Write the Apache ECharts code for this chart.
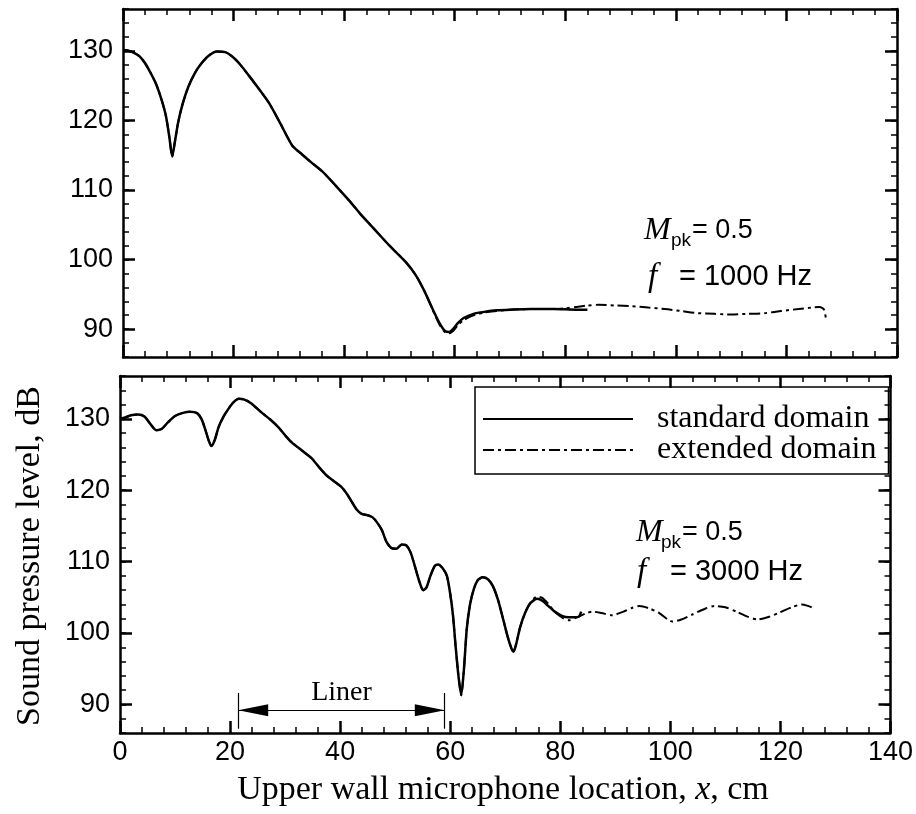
<!DOCTYPE html>
<html lang="en">
<head>
<meta charset="UTF-8">
<title>Sound pressure level along upper wall</title>
<script src="https://cdn.jsdelivr.net/npm/echarts@6/dist/echarts.min.js"></script>
<style>
  html, body { margin: 0; padding: 0; background: #fff; }
  #chart { width: 916px; height: 814px; }
</style>
</head>
<body>
<div id="chart"></div>
<script>
// ---- data (x in cm, SPL in dB) ----
var yLabelValues = [90, 100, 110, 120, 130];

// f = 1000 Hz, standard domain
var topStdX = [0, 1, 2, 3, 4, 5, 6, 7, 7.8, 8.4, 8.9, 9.4, 10, 10.8, 11.8, 13, 14.2, 15.5, 17, 18.5,
  19.7, 21, 22.7, 24.5, 26.4, 28.5, 30.6, 32.4, 34, 36, 38.5, 41, 43, 45.2, 48.2, 51.2, 53, 54.5,
  56, 57.3, 58.3, 59, 59.8, 60.6, 61.6, 63.4, 65.5, 67.6, 70, 73.8, 78, 82, 84];
var topStdY = [130.1, 130, 129.7, 129.2, 128.2, 126.8, 125.2, 122.9, 120.5, 117.5, 114.8, 117, 119.8,
  122.4, 124.8, 126.8, 128.2, 129.3, 129.9, 129.8, 129.2, 128.2, 126.5, 124.6, 122.5, 119.5, 116.4,
  115.1, 114, 112.7, 110.6, 108.4, 106.5, 104.6, 102, 99.6, 97.7, 95.5, 92.9, 90.8, 89.7, 89.6, 90.1,
  90.9, 91.6, 92.2, 92.5, 92.7, 92.8, 92.9, 92.9, 92.8, 92.8];

// f = 1000 Hz, extended domain
var topExtX = [0, 1, 2, 3, 4, 5, 6, 7, 7.8, 8.4, 8.9, 9.4, 10, 10.8, 11.8, 13, 14.2, 15.5, 17, 18.5,
  19.7, 21, 22.7, 24.5, 26.4, 28.5, 30.6, 32.4, 34, 36, 38.5, 41, 43, 45.2, 48.2, 51.2, 53, 54.5,
  56, 57.3, 58.3, 59, 59.8, 60.6, 61.6, 63.4, 65.5, 67.6, 70, 73.8, 78, 80, 82, 84, 86, 89, 92, 95,
  98, 101, 104, 107, 110, 113, 116, 119, 122.2, 124.5, 126, 126.8, 127.2];
var topExtY = [130.1, 130, 129.7, 129.2, 128.2, 126.8, 125.2, 122.9, 120.5, 117.5, 114.8, 117, 119.8,
  122.4, 124.8, 126.8, 128.2, 129.3, 129.9, 129.8, 129.2, 128.2, 126.5, 124.6, 122.5, 119.5, 116.4,
  115.1, 114, 112.7, 110.6, 108.4, 106.5, 104.6, 102, 99.6, 97.7, 95.5, 92.8, 90.6, 89.5, 89.4, 89.8,
  90.6, 91.3, 92, 92.4, 92.6, 92.8, 92.9, 92.9, 93, 93.2, 93.4, 93.5, 93.4, 93.3, 93.1, 92.9, 92.6,
  92.3, 92.2, 92.1, 92.2, 92.3, 92.6, 92.9, 93.1, 93.2, 92.8, 91.2];

// f = 3000 Hz, standard domain
var botStdX = [0, 1, 2, 3.3, 4.5, 5.5, 6.6, 7.6, 8.7, 10, 11.3, 12.7, 14, 14.8, 15.5, 16.1, 16.6, 17.2,
  17.9, 18.8, 19.7, 20.6, 21.6, 22.6, 23.8, 25.7, 27.3, 28.8, 30, 31.2, 33, 34.8, 36.2, 37.5, 39, 40.3,
  41.3, 42.1, 43, 43.9, 45, 45.9, 46.7, 47.6, 48.4, 49.3, 50.2, 51.2, 52, 52.8, 53.6, 54.4, 55.1, 55.7,
  56.4, 57.2, 57.8, 58.6, 59.4, 60, 60.5, 61, 61.5, 62, 62.5, 63, 63.6, 64.3, 65, 65.9, 66.9, 67.8,
  68.7, 69.6, 70.4, 71.1, 71.5, 72, 72.7, 73.6, 74.6, 75.8, 76.8, 77.8, 79, 80.3, 81.5, 82.5, 83.4, 83.8];
var botStdY = [130, 130.2, 130.5, 130.6, 130.3, 129.3, 128.4, 128.6, 129.5, 130.4, 130.8, 131, 130.8,
  130, 128.5, 127, 126.2, 127, 128.8, 130.3, 131.4, 132.3, 132.8, 132.7, 132.2, 130.9, 129.9, 128.8,
  127.7, 126.7, 125.6, 124.5, 123.2, 122.1, 121.2, 120.4, 119.4, 118.4, 117.3, 116.7, 116.5, 116.2,
  115.5, 114.4, 112.8, 111.9, 111.8, 112.4, 112.3, 111.3, 109.3, 107.2, 106, 106.4, 108, 109.4, 109.6,
  109.1, 108, 105.5, 102.5, 98, 94, 91.3, 95, 100.5, 104, 106.2, 107.4, 107.8, 107.5, 106.5, 104.6,
  102, 99.6, 97.9, 97.4, 98.5, 100.8, 102.8, 104.2, 104.8, 104.5, 103.8, 103, 102.4, 102.2, 102.2,
  102.3, 103];

// f = 3000 Hz, extended domain
var botExtX = [0, 1, 2, 3.3, 4.5, 5.5, 6.6, 7.6, 8.7, 10, 11.3, 12.7, 14, 14.8, 15.5, 16.1, 16.6, 17.2,
  17.9, 18.8, 19.7, 20.6, 21.6, 22.6, 23.8, 25.7, 27.3, 28.8, 30, 31.2, 33, 34.8, 36.2, 37.5, 39, 40.3,
  41.3, 42.1, 43, 43.9, 45, 45.9, 46.7, 47.6, 48.4, 49.3, 50.2, 51.2, 52, 52.8, 53.6, 54.4, 55.1, 55.7,
  56.4, 57.2, 57.8, 58.6, 59.4, 60, 60.5, 61, 61.5, 62, 62.5, 63, 63.6, 64.3, 65, 65.9, 66.9, 67.8,
  68.7, 69.6, 70.4, 71.1, 71.5, 72, 72.7, 73.6, 74.6, 75.8, 76.8, 77.8, 79, 80.5, 81.6, 83, 84.5, 85.8,
  87.5, 89.4, 91.5, 93, 94.4, 96, 98, 99.5, 100.4, 102, 104, 106, 108, 110, 112, 114, 115.9, 118,
  119.9, 122, 123.9, 125, 126];
var botExtY = [130, 130.2, 130.5, 130.6, 130.3, 129.3, 128.4, 128.6, 129.5, 130.4, 130.8, 131, 130.8,
  130, 128.5, 127, 126.2, 127, 128.8, 130.3, 131.4, 132.3, 132.8, 132.7, 132.2, 130.9, 129.9, 128.8,
  127.7, 126.7, 125.6, 124.5, 123.2, 122.1, 121.2, 120.4, 119.4, 118.4, 117.3, 116.7, 116.5, 116.2,
  115.5, 114.4, 112.8, 111.9, 111.8, 112.4, 112.3, 111.3, 109.3, 107.2, 106, 106.4, 108, 109.4, 109.6,
  109.1, 108, 105.5, 102.5, 98, 94, 91.3, 95, 100.5, 104, 106.2, 107.4, 107.8, 107.5, 106.5, 104.6,
  102, 99.6, 97.9, 97.4, 98.5, 100.8, 102.8, 104.3, 105.1, 104.9, 104.1, 103, 102.1, 101.8, 102.2,
  102.7, 103, 102.8, 102.5, 103, 103.5, 103.8, 103.5, 102.8, 101.9, 101.6, 101.9, 102.6, 103.3, 103.8,
  103.6, 103, 102.3, 101.9, 102.3, 102.9, 103.6, 104, 103.8, 103.5];

// liner extent (cm) and annotation heights (dB)
var linerStart = 21.5, linerEnd = 59;
var linerArrowY = 89.2, linerTop = 91.6, linerBottom = 86.6;
var arrowHalf = 2.7; // half an arrowhead, in cm, so the tips touch the end bars

function pairs(xs, ys) {
  return xs.map(function (x, i) { return [x, ys[i]]; });
}

var sans = 'Liberation Sans';
var serif = 'Liberation Serif';

function xAxisFor(grid, pos, labels) {
  return {
    type: 'value', gridIndex: grid, position: pos, min: 0, max: 140, interval: 20,
    axisLine: { show: true, lineStyle: { color: '#000', width: 2.5 } },
    axisTick: { show: true, inside: true, length: 12, lineStyle: { color: '#000', width: 2.5 } },
    minorTick: { show: true, splitNumber: 5, length: 6, lineStyle: { color: '#000', width: 1.5 } },
    axisLabel: { show: labels, color: '#000', fontFamily: sans, fontSize: 27, margin: 6 },
    splitLine: { show: false }, minorSplitLine: { show: false }
  };
}
function yMajor(grid, pos, labels) {
  return {
    type: 'value', gridIndex: grid, position: pos, min: 86, max: 136,
    axisLine: { show: true, lineStyle: { color: '#000', width: 2.5 } },
    axisTick: { show: true, inside: true, length: 12, customValues: yLabelValues,
      lineStyle: { color: '#000', width: 2.5 } },
    axisLabel: { show: labels, customValues: yLabelValues, color: '#000', fontFamily: sans,
      fontSize: 27, margin: 10 },
    splitLine: { show: false }
  };
}
function yMinor(grid, pos) {
  return {
    type: 'value', gridIndex: grid, position: pos, min: 86, max: 136, interval: 2,
    axisLine: { show: false },
    axisTick: { show: true, inside: true, length: 6, lineStyle: { color: '#000', width: 1.5 } },
    axisLabel: { show: false }, splitLine: { show: false }
  };
}

var solidStyle = { color: '#000', width: 2.5, type: 'solid' };
var dashDotStyle = { color: '#000', width: 2, type: [11, 4, 3, 4] };

function lineSeries(name, xi, yi, style, xs, ys, z) {
  return {
    name: name, type: 'line', xAxisIndex: xi, yAxisIndex: yi, symbol: 'none',
    smooth: 0.25, itemStyle: { color: '#000' }, lineStyle: style, data: pairs(xs, ys), z: z
  };
}

var chart = echarts.init(document.getElementById('chart'), null, { renderer: 'canvas' });

var bottomStd = lineSeries('standard domain', 2, 4, solidStyle, botStdX, botStdY, 3);
bottomStd.markLine = {
  silent: true, animation: false, symbol: 'none',
  lineStyle: { color: '#000', width: 1.2, type: 'solid' },
  label: { show: false },
  data: [
    [{ coord: [linerStart, linerTop] }, { coord: [linerStart, linerBottom] }],
    [{ coord: [linerEnd, linerTop] }, { coord: [linerEnd, linerBottom] }],
    [{ coord: [linerStart, linerArrowY] }, { coord: [linerEnd, linerArrowY] }],
    [
      { coord: [linerStart + arrowHalf, linerArrowY], symbol: 'triangle', symbolSize: [12, 30],
        label: { show: true, position: 'middle', formatter: 'Liner', color: '#000',
          fontFamily: serif, fontSize: 28, distance: 4 } },
      { coord: [linerEnd - arrowHalf, linerArrowY], symbol: 'triangle', symbolSize: [12, 30] }
    ]
  ]
};

var option = {
  animation: false,
  backgroundColor: '#fff',
  grid: [
    { left: 123, right: 19, top: 9, bottom: 457 },
    { left: 120, right: 25, top: 376, bottom: 81 }
  ],
  xAxis: [
    xAxisFor(0, 'bottom', false), xAxisFor(0, 'top', false),
    xAxisFor(1, 'bottom', true), xAxisFor(1, 'top', false)
  ],
  yAxis: [
    yMajor(0, 'left', true), yMinor(0, 'left'), yMajor(0, 'right', false), yMinor(0, 'right'),
    yMajor(1, 'left', true), yMinor(1, 'left'), yMajor(1, 'right', false), yMinor(1, 'right')
  ],
  legend: {
    data: ['standard domain', 'extended domain'],
    orient: 'vertical', left: 475, top: 387,
    padding: [16, 12, 8, 7], itemGap: -1, itemWidth: 150, itemHeight: 14,
    borderColor: '#000', borderWidth: 1.5, selectedMode: false,
    itemStyle: { opacity: 0 },
    textStyle: { color: '#000', fontFamily: serif, fontSize: 32, padding: [0, 0, 0, 19] }
  },
  series: [
    lineSeries('extended domain', 0, 0, dashDotStyle, topExtX, topExtY, 2),
    lineSeries('standard domain', 0, 0, solidStyle, topStdX, topStdY, 3),
    lineSeries('extended domain', 2, 4, dashDotStyle, botExtX, botExtY, 2),
    bottomStd
  ],
  graphic: [
    { type: 'text', x: 30, y: 556, rotation: Math.PI / 2,
      style: { text: 'Sound pressure level, dB', fontFamily: serif, fontSize: 34, fill: '#000',
        align: 'center', verticalAlign: 'middle' } },
    { type: 'text', x: 503, y: 790,
      style: { text: '{a|Upper wall microphone location, }{i|x}{a|, cm}', align: 'center',
        verticalAlign: 'middle', fill: '#000',
        rich: { a: { fontFamily: serif, fontSize: 34, fill: '#000' },
                i: { fontFamily: serif, fontStyle: 'italic', fontSize: 34, fill: '#000' } } } },
    // top panel annotation
    { type: 'text', x: 644, y: 231, style: { text: 'M', fontFamily: serif, fontStyle: 'italic',
        fontSize: 32, fill: '#000', verticalAlign: 'middle' } },
    { type: 'text', x: 671, y: 241, style: { text: 'pk', fontFamily: sans, fontSize: 19,
        fill: '#000', verticalAlign: 'middle' } },
    { type: 'text', x: 692, y: 231, style: { text: '= 0.5', fontFamily: sans, fontSize: 27,
        fill: '#000', verticalAlign: 'middle' } },
    { type: 'text', x: 648, y: 277, style: { text: 'f', fontFamily: serif, fontStyle: 'italic',
        fontSize: 33, fill: '#000', verticalAlign: 'middle' } },
    { type: 'text', x: 679, y: 277, style: { text: '= 1000 Hz', fontFamily: sans, fontSize: 29,
        fill: '#000', verticalAlign: 'middle' } },
    // bottom panel annotation
    { type: 'text', x: 636, y: 533, style: { text: 'M', fontFamily: serif, fontStyle: 'italic',
        fontSize: 32, fill: '#000', verticalAlign: 'middle' } },
    { type: 'text', x: 661, y: 543, style: { text: 'pk', fontFamily: sans, fontSize: 19,
        fill: '#000', verticalAlign: 'middle' } },
    { type: 'text', x: 682, y: 533, style: { text: '= 0.5', fontFamily: sans, fontSize: 27,
        fill: '#000', verticalAlign: 'middle' } },
    { type: 'text', x: 637, y: 572, style: { text: 'f', fontFamily: serif, fontStyle: 'italic',
        fontSize: 33, fill: '#000', verticalAlign: 'middle' } },
    { type: 'text', x: 670, y: 572, style: { text: '= 3000 Hz', fontFamily: sans, fontSize: 29,
        fill: '#000', verticalAlign: 'middle' } }
  ]
};

chart.setOption(option);
</script>
</body>
</html>
